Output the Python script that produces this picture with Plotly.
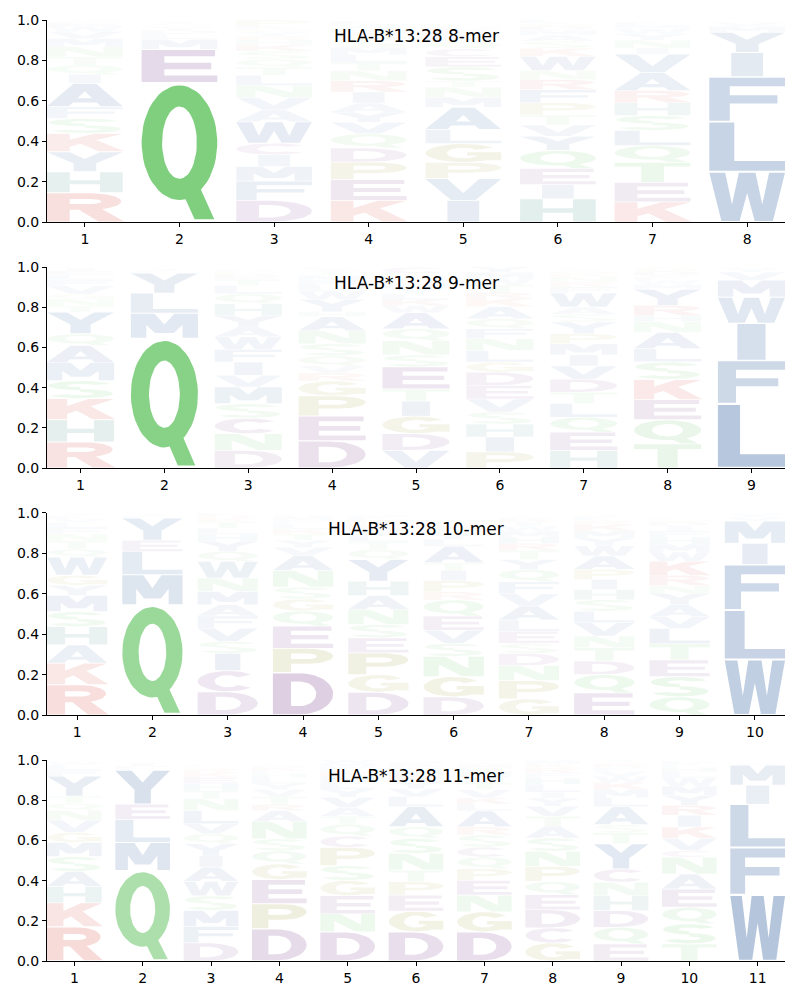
import numpy as np
import plotly.graph_objects as go

# ---------------- data (letters listed bottom -> top, with stack heights) ----------------
titles = ["HLA-B*13:28 8-mer", "HLA-B*13:28 9-mer", "HLA-B*13:28 10-mer", "HLA-B*13:28 11-mer"]

letters_8 = ["RHYKSFAIQTNMVWEG", "QEMLDYSATN", "DFMICWAVNLTQSKHRYGEP", "KEPDQVYAIRNTLMSGHWF",
             "IVPGLAMNTSECQFDRH", "HIEQYVTPFRNWKSAMDGL", "KETQLSHRAVINYWMF", "WLFIYMV"]
heights_8 = [
    [.145, .104, .099, .091, .074, .058, .116, .044, .046, .041, .05, .04, .035, .025, .02, .012],
    [.69, .165, .05, .025, .02, .015, .01, .01, .01, .005],
    [.107, .096, .072, .058, .057, .106, .06, .06, .06, .05, .04, .04, .04, .03, .025, .02, .02, .015, .014, .03],
    [.107, .103, .087, .069, .071, .057, .05, .045, .055, .055, .05, .04, .04, .035, .04, .03, .025, .02, .015],
    [.107, .108, .08, .093, .07, .11, .05, .05, .03, .07, .05, .04, .035, .025, .025, .015, .01],
    [.115, .07, .08, .09, .07, .055, .05, .06, .065, .05, .045, .07, .04, .035, .03, .025, .02, .015, .015],
    [.1, .096, .1, .083, .074, .074, .063, .061, .09, .09, .03, .04, .03, .025, .02, .015],
    [.249, .248, .222, .12, .1, .03, .02],
]

letters_9 = ["RHKSMAQYTNGVFLEI", "QMLYFI", "DNCSMVIFWAYHQLTERP", "DEPGRVQSNAHYWLFMTIK",
             "VDGITESNQAWKLYMRHPFC", "PIHSVEDGLNFQAKRTWMY", "HEQLTDVIMPYSAWFRNKGC",
             "TQEKSLANHRYMWFVDG", "LFIWMVY"]
heights_9 = [
    [.13, .11, .105, .09, .09, .085, .058, .108, .03, .035, .025, .04, .03, .025, .02, .015],
    [.645, .125, .1, .1, .01, .01],
    [.088, .083, .077, .072, .083, .058, .066, .063, .062, .05, .055, .06, .05, .04, .03, .02, .015, .015],
    [.135, .124, .1, .074, .04, .035, .05, .06, .065, .07, .025, .06, .04, .03, .025, .025, .02, .01, .01],
    [.088, .083, .087, .075, .06, .11, .06, .07, .06, .08, .035, .03, .03, .025, .02, .015, .015, .015, .01, .03],
    [.08, .074, .065, .06, .064, .068, .066, .05, .058, .058, .05, .05, .06, .04, .03, .04, .03, .03, .027],
    [.088, .09, .075, .068, .056, .065, .066, .055, .055, .05, .058, .04, .035, .07, .03, .025, .025, .015, .015, .01],
    [.12, .12, .1, .1, .088, .066, .08, .055, .03, .05, .08, .025, .02, .015, .01, .02, .02],
    [.32, .215, .185, .13, .085, .04, .02],
]

letters_10 = ["RKAHSMYGWQTNFLVEI", "QMLEYFI", "DCISVFAMNWQYHLTKRE", "DPEQGSNAVYTKLFMR",
              "DGPESNAHYQTLVKRFM", "DGNSVEQRPITALYFKM", "GPNDSELAVFQYTRHMWIKC",
              "EQDTNVLSHIPAWYMKRFG", "QSETLVAYNRKWMHFIDGP", "WLFIMVY"]
heights_10 = [
    [.15, .107, .09, .09, .075, .08, .05, .05, .09, .04, .04, .035, .03, .025, .02, .015, .01],
    [.545, .15, .115, .055, .11, .01, .01],
    [.115, .105, .085, .06, .065, .06, .056, .066, .066, .082, .05, .05, .035, .03, .03, .02, .015, .01],
    [.21, .12, .11, .075, .06, .058, .082, .075, .04, .035, .03, .025, .025, .02, .015, .01],
    [.113, .087, .108, .074, .066, .074, .07, .07, .107, .05, .04, .03, .03, .025, .02, .015, .01],
    [.09, .1, .1, .065, .065, .07, .08, .04, .055, .05, .04, .08, .035, .03, .02, .02, .01],
    [.08, .09, .075, .06, .05, .06, .055, .07, .06, .06, .06, .05, .045, .035, .03, .03, .025, .02, .02, .01],
    [.11, .09, .067, .066, .058, .066, .057, .057, .05, .05, .05, .066, .05, .04, .035, .03, .02, .02, .011],
    [.09, .1, .083, .08, .075, .058, .06, .055, .04, .05, .07, .045, .04, .035, .03, .025, .02, .015, .01],
    [.275, .245, .225, .105, .11, .02, .015],
]

letters_11 = ["RKHASMGVNQTYFLW", "QMLEYFI", "DFMSWAIYQVLNTHEKRGC", "DPEGQSNARTVYLHFKM",
              "DNEGSPCQTAVYLHRFMW", "DGEPTNSQALVYRHFKM", "DGNEPQCSRALKVTYHFMW",
              "GCDEQPNSATVYILHFRKMW", "EQDHNCYTSALMKWVFRGI", "TSQEANCVKIRYMWLHFD", "WFLIMV"]
heights_11 = [
    [.17, .12, .08, .075, .075, .07, .05, .06, .05, .035, .035, .1, .03, .025, .015],
    [.45, .14, .115, .075, .17, .02, .015],
    [.09, .082, .08, .072, .072, .072, .055, .06, .05, .05, .065, .06, .04, .035, .03, .025, .02, .01, .01],
    [.16, .125, .12, .078, .065, .06, .085, .055, .03, .04, .035, .03, .03, .02, .015, .015, .01],
    [.145, .09, .09, .076, .074, .09, .057, .058, .04, .045, .05, .04, .035, .03, .025, .02, .02, .015],
    [.145, .103, .08, .066, .058, .083, .075, .058, .1, .05, .04, .035, .03, .025, .02, .015, .01],
    [.145, .1, .083, .073, .058, .058, .05, .06, .04, .08, .035, .03, .04, .035, .03, .025, .02, .015, .01],
    [.09, .075, .09, .075, .066, .075, .075, .066, .058, .05, .05, .04, .03, .04, .03, .025, .025, .02, .015, .01],
    [.085, .083, .083, .075, .066, .066, .125, .055, .04, .09, .045, .04, .035, .03, .025, .02, .02, .01, .01],
    [.085, .1, .083, .09, .075, .083, .035, .058, .058, .058, .05, .05, .045, .04, .03, .025, .02, .01],
    [.33, .235, .215, .095, .1, .01],
]

motifs = [(letters_8, heights_8), (letters_9, heights_9), (letters_10, heights_10), (letters_11, heights_11)]

# ---------------- style ----------------
BLUE, GREEN, PURPLE = (30, 80, 150), (70, 185, 70), (100, 30, 120)
RED, OLIVE, TEAL = (205, 40, 30), (128, 128, 0), (10, 110, 100)
color_of = {}
for aa in "AVLIMFWY":
    color_of[aa] = BLUE
for aa in "QSTN":
    color_of[aa] = GREEN
for aa in "DEC":
    color_of[aa] = PURPLE
for aa in "RK":
    color_of[aa] = RED
for aa in "PG":
    color_of[aa] = OLIVE
color_of["H"] = TEAL

LETTER_W = 0.8
VPAD = 0.04

# ---------------- glyph outlines in a unit box ----------------
SW, SH = 0.30, 0.20


def rect(x0, y0, x1, y1):
    return [(x0, y0), (x1, y0), (x1, y1), (x0, y1)]


def band(cx, cy, rxo, ryo, rxi, ryi, a0, a1, n=28):
    t = np.radians(np.linspace(a0, a1, n))
    outer = [(cx + rxo * np.cos(a), cy + ryo * np.sin(a)) for a in t]
    inner = [(cx + rxi * np.cos(a), cy + ryi * np.sin(a)) for a in t[::-1]]
    return outer + inner


def ring(cx, cy, rxo, ryo, rxi, ryi):
    return [band(cx, cy, rxo, ryo, rxi, ryi, 90, 270), band(cx, cy, rxo, ryo, rxi, ryi, -90, 90)]


def ccw(poly):
    a = 0.0
    for i in range(len(poly)):
        x0, y0 = poly[i]
        x1, y1 = poly[(i + 1) % len(poly)]
        a += x0 * y1 - x1 * y0
    return poly if a > 0 else poly[::-1]


GLYPHS = {
    "A": [[(0, 0), (0.29, 0), (0.5, 0.66), (0.71, 0), (1, 0), (0.65, 1), (0.35, 1)],
          rect(0.18, 0.17, 0.82, 0.35)],
    "C": [band(0.5, 0.5, 0.5, 0.5, 0.22, 0.30, 40, 320)],
    "D": [rect(0, 0, SW, 1), rect(SW, 1 - SH, 0.45, 1), rect(SW, 0, 0.45, SH),
          band(0.45, 0.5, 0.55, 0.5, 0.27, 0.5 - SH, -90, 90)],
    "E": [rect(0, 0, SW, 1), rect(SW, 0, 1, SH), rect(SW, 0.40, 0.92, 0.60), rect(SW, 1 - SH, 0.97, 1)],
    "F": [rect(0, 0, SW * 0.9, 1), rect(SW * 0.9, 1 - SH, 1, 1), rect(SW * 0.9, 0.40, 0.9, 0.59)],
    "G": [band(0.5, 0.5, 0.5, 0.5, 0.22, 0.30, 38, 358), rect(0.55, 0.36, 1.0, 0.54), rect(0.74, 0.1, 1.0, 0.54)],
    "H": [rect(0, 0, SW, 1), rect(1 - SW, 0, 1, 1), rect(SW, 0.40, 1 - SW, 0.60)],
    "I": [rect(0.29, 0, 0.71, 1)],
    "K": [rect(0, 0, SW, 1), [(SW, 0.28), (1.0, 1.0), (0.62, 1.0), (SW, 0.66)],
          [(0.42, 0.47), (0.68, 0), (1.02, 0), (0.64, 0.66)]],
    "L": [rect(0, 0, SW * 1.1, 1), rect(SW * 1.1, 0, 1, SH)],
    "M": [rect(0, 0, 0.23, 1), rect(0.77, 0, 1, 1),
          [(0.05, 1), (0.35, 1), (0.5, 0.55), (0.65, 1), (0.95, 1), (0.64, 0.2), (0.36, 0.2)]],
    "N": [rect(0, 0, SW * 0.85, 1), rect(1 - SW * 0.85, 0, 1, 1), [(0.0, 1.0), (0.36, 1.0), (1.0, 0.0), (0.64, 0.0)]],
    "P": [rect(0, 0, SW, 1), rect(SW, 1 - SH, 0.58, 1), rect(SW, 0.36, 0.58, 0.36 + SH),
          band(0.58, 0.68, 0.42, 0.32, 0.15, 0.32 - SH, -90, 90)],
    "Q": ring(0.5, 0.572, 0.5, 0.428, 0.23, 0.27) + [[(0.50, 0.25), (0.76, 0.25), (0.96, 0.0), (0.70, 0.0)]],
    "R": [rect(0, 0, SW, 1), rect(SW, 1 - SH, 0.58, 1), rect(SW, 0.42, 0.58, 0.42 + SH),
          band(0.58, 0.71, 0.40, 0.29, 0.14, 0.29 - SH, -90, 90),
          [(0.40, 0.45), (0.72, 0.45), (1.02, 0.0), (0.68, 0.0)]],
    "S": [band(0.5, 0.735, 0.48, 0.265, 0.2, 0.095, 20, 270),
          band(0.5, 0.265, 0.48, 0.265, 0.2, 0.095, 200, 450)],
    "T": [rect(0, 1 - SH, 1, 1), rect(0.5 - SW / 2, 0, 0.5 + SW / 2, 1 - SH)],
    "V": [[(0, 1), (0.29, 1), (0.5, 0.33), (0.71, 1), (1, 1), (0.66, 0), (0.34, 0)]],
    "W": [[(0, 1), (0.21, 1), (0.3, 0.34), (0.39, 1), (0.61, 1), (0.7, 0.34), (0.79, 1), (1, 1),
           (0.84, 0), (0.6, 0), (0.5, 0.58), (0.4, 0), (0.16, 0)]],
    "Y": [[(0, 1), (0.3, 1), (0.5, 0.64), (0.70, 1), (1, 1), (0.65, 0.42), (0.35, 0.42)],
          rect(0.35, 0, 0.65, 0.43)],
}
GLYPHS = {k: [ccw([(float(a), float(b)) for a, b in p]) for p in v] for k, v in GLYPHS.items()}

# ---------------- layout geometry ----------------
y_domains = [[0.7853, 1.0], [0.5239, 0.7375], [0.2614, 0.4761], [0.0, 0.2136]]

fig = go.Figure()
font_family = "DejaVu Sans"

for r, (letters, heights) in enumerate(motifs):
    xa = "x" if r == 0 else f"x{r + 1}"
    ya = "y" if r == 0 else f"y{r + 1}"
    n = len(letters)
    for pos in range(n):
        center = pos + 1
        base = 0.0
        for aa, h in zip(letters[pos], heights[pos]):
            pad = VPAD * h / 2
            y0, hh = base + pad, h - 2 * pad
            xs, ys = [], []
            for poly in GLYPHS[aa]:
                for u, v in poly:
                    xs.append(center - LETTER_W / 2 + LETTER_W * u)
                    ys.append(y0 + hh * v)
                xs.append(None)
                ys.append(None)
            c = color_of[aa]
            alpha = min(1.0, h)
            fig.add_trace(go.Scatter(
                x=xs, y=ys, xaxis=xa, yaxis=ya, mode="lines", fill="toself",
                fillcolor=f"rgba({c[0]},{c[1]},{c[2]},{alpha:.3f})",
                line=dict(width=0, color="rgba(0,0,0,0)"),
                hoverinfo="skip", showlegend=False,
            ))
            base += h

    axis_common = dict(showline=True, linecolor="black", linewidth=1, ticks="outside", ticklen=4,
                       tickwidth=1, tickcolor="black", showgrid=False, zeroline=False, mirror=False,
                       automargin=False,
                       tickfont=dict(family=font_family, size=14, color="black"))
    fig.layout[("xaxis" if r == 0 else f"xaxis{r + 1}")] = dict(
        domain=[0, 1], anchor=ya, range=[0.6, n + 0.4],
        tickvals=list(range(1, n + 1)), ticktext=[str(i) for i in range(1, n + 1)], **axis_common)
    fig.layout[("yaxis" if r == 0 else f"yaxis{r + 1}")] = dict(
        domain=y_domains[r], anchor=xa, range=[0, 1],
        tickvals=[0, 0.2, 0.4, 0.6, 0.8, 1.0], ticktext=["0.0", "0.2", "0.4", "0.6", "0.8", "1.0"],
        **axis_common)
    fig.add_annotation(text=titles[r], xref=f"{xa} domain", yref=f"{ya} domain", x=0.5, y=0.92,
                       showarrow=False, xanchor="center", yanchor="middle",
                       font=dict(family=font_family, size=17, color="black"))

fig.update_layout(width=800, height=1000, margin=dict(l=47, r=15, t=20, b=39, autoexpand=False),
                  plot_bgcolor="white", paper_bgcolor="white", showlegend=False)

fig.write_html("out.html", config={"displayModeBar": False},
               post_script="document.body.style.margin='0';document.body.style.overflow='hidden';")
